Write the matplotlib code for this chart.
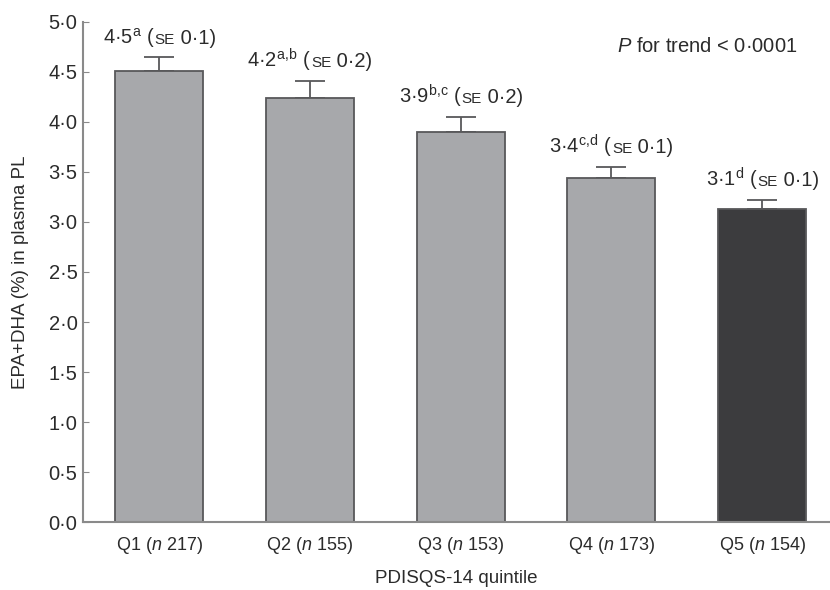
import matplotlib.pyplot as plt
from matplotlib.offsetbox import TextArea, HPacker, AnnotationBbox

plt.rcParams['font.family'] = ['Liberation Sans', 'DejaVu Sans']
plt.rcParams['mathtext.fontset'] = 'custom'
plt.rcParams['mathtext.rm'] = 'Liberation Sans'
plt.rcParams['mathtext.it'] = 'Liberation Sans:italic'

# data
quintiles = ["Q1", "Q2", "Q3", "Q4", "Q5"]
n_counts = [217, 155, 153, 173, 154]
means = [4.51, 4.24, 3.90, 3.44, 3.13]
errors = [0.14, 0.17, 0.15, 0.11, 0.09]
mean_labels = ["4·5", "4·2", "3·9", "3·4", "3·1"]
letters = ["a", "a{,}b", "b{,}c", "c{,}d", "d"]
se_labels = ["0·1", "0·2", "0·2", "0·1", "0·1"]
yticks = [0, 0.5, 1, 1.5, 2, 2.5, 3, 3.5, 4, 4.5, 5]

text_col = "#2b2b2b"
light = "#a7a8ab"
dark = "#3c3c3e"
edge = "#58585a"

fig = plt.figure(figsize=(8.3, 5.9), dpi=100)
ax = fig.add_axes([0.1, 0.115, 0.9, 0.848])

x = list(range(len(quintiles)))
colors = [light] * 4 + [dark]
ax.bar(x, means, width=0.585, color=colors, edgecolor=edge, linewidth=1.3, zorder=2)
# upper error bars only
ax.errorbar(x, means, yerr=[[0] * 5, errors], fmt="none", ecolor=edge,
            elinewidth=1.3, capsize=11, capthick=1.3, zorder=1)

ax.set_xlim(-0.505, 4.45)
ax.set_ylim(0, 5.0)
ax.set_yticks(yticks)
ax.set_yticklabels([f"{v:.1f}".replace(".", "·") for v in yticks])
ax.set_xticks(x)
ax.set_xticklabels([f"{q} ($\\it{{n}}$ {n})" for q, n in zip(quintiles, n_counts)])

for s in ["top", "right"]:
    ax.spines[s].set_visible(False)
for s in ["left", "bottom"]:
    ax.spines[s].set_color("#8a8a8a")
    ax.spines[s].set_linewidth(1.5)
ax.tick_params(axis="y", direction="in", length=4, color="#8a8a8a",
               labelsize=14.5, labelcolor=text_col, pad=4)
ax.tick_params(axis="x", length=0, labelsize=13, labelcolor=text_col, pad=9)

ax.set_ylabel("EPA+DHA (%) in plasma PL", fontsize=13.5, color=text_col, labelpad=14)
ax.set_xlabel("PDISQS-14 quintile", fontsize=13.5, color=text_col, labelpad=10)

# value labels above each bar
for i in x:
    parts = [
        TextArea(f"{mean_labels[i]}$^{{\\mathregular{{{letters[i]}}}}}$ (",
                 textprops=dict(fontsize=14.5, color=text_col)),
        TextArea("SE", textprops=dict(fontsize=11, color=text_col)),
        TextArea(f" {se_labels[i]})", textprops=dict(fontsize=14.5, color=text_col)),
    ]
    box = HPacker(children=parts, align="baseline", pad=0, sep=0)
    ab = AnnotationBbox(box, (i, means[i] + errors[i]), xybox=(0, 5),
                        xycoords="data", boxcoords="offset points",
                        box_alignment=(0.5, 0), frameon=False)
    ax.add_artist(ab)

ax.text(0.957, 0.95, "$\\it{P}$ for trend < 0·0001", transform=ax.transAxes,
        ha="right", va="center", fontsize=14.5, color=text_col)

fig.savefig("out.png", dpi=100)
